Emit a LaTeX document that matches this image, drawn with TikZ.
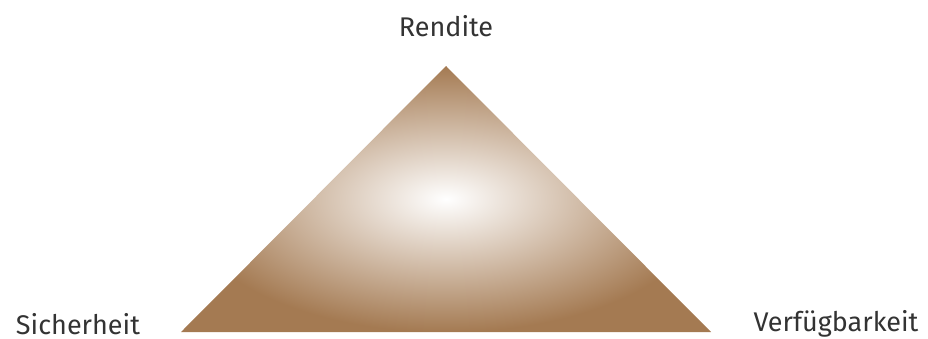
\documentclass[tikz,border=0pt]{standalone}
\usepackage{fontspec}
\setmainfont{Fira Sans}
\definecolor{brownedge}{HTML}{A47A52}
\definecolor{txt}{HTML}{333333}
\tikzset{lbl/.style={text=txt,font=\fontsize{27pt}{30pt}\selectfont,inner sep=0pt}}
\begin{document}
\begin{tikzpicture}[x=1pt,y=-1pt]
\useasboundingbox (0,0) rectangle (928,338);
\coordinate (top) at (446,66);
\coordinate (left) at (181,332);
\coordinate (right) at (711,332);
\shade[inner color=white,outer color=brownedge] (top) -- (right) -- (left) -- cycle;
\node[lbl] (r) at (446,26) {Rendite};
\node[lbl] (s) at (78,324) {Sicherheit};
\node[lbl] (v) at (836,324) {Verfügbarkeit};
\end{tikzpicture}
\end{document}
